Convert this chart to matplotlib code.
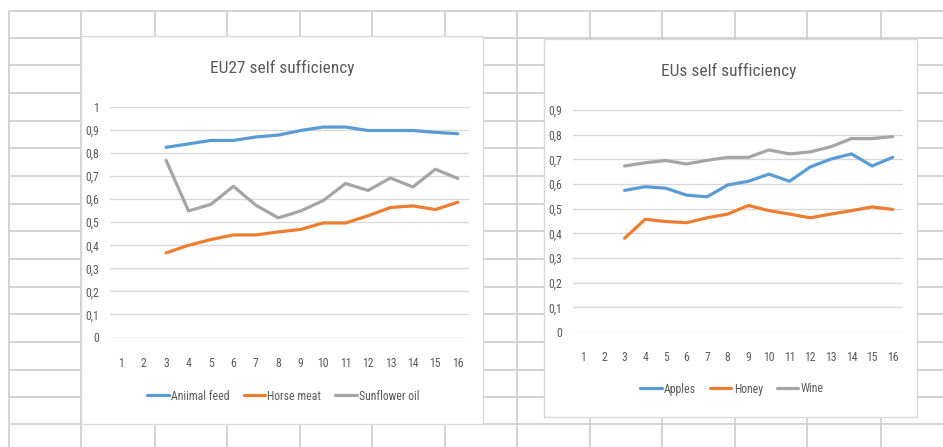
import numpy as np
import matplotlib
matplotlib.use('Agg')
import matplotlib.pyplot as plt
from matplotlib.patches import Rectangle
from matplotlib.ticker import FuncFormatter, MultipleLocator
from matplotlib import font_manager

''' data read off the two Excel charts '''
lYears = list(range(3, 17))
lTicks = list(range(1, 17))

lfAnimalFeed = [0.825, 0.84, 0.855, 0.855, 0.87, 0.878, 0.898, 0.913, 0.913,
                0.898, 0.898, 0.898, 0.89, 0.884]
lfHorseMeat = [0.367, 0.40, 0.425, 0.445, 0.445, 0.458, 0.469, 0.497, 0.497,
               0.528, 0.564, 0.571, 0.555, 0.587]
lfSunflowerOil = [0.769, 0.549, 0.578, 0.656, 0.574, 0.519, 0.549, 0.594,
                  0.668, 0.638, 0.692, 0.653, 0.73, 0.69]

lfApples = [0.574, 0.589, 0.583, 0.555, 0.548, 0.596, 0.611, 0.64, 0.611,
            0.669, 0.701, 0.722, 0.673, 0.708]
lfHoney = [0.38, 0.457, 0.448, 0.443, 0.463, 0.478, 0.513, 0.492, 0.478,
           0.463, 0.478, 0.492, 0.507, 0.497]
lfWine = [0.673, 0.686, 0.695, 0.681, 0.696, 0.708, 0.708, 0.738, 0.722,
          0.73, 0.751, 0.784, 0.784, 0.792]

''' styling '''
W, H = 943, 447
cBlue, cOrange, cGray = '#5B9BD5', '#ED7D31', '#A5A5A5'
cText = '#595959'
cGrid = '#D9D9D9'
cSheet = '#D0D0D0'

''' pick the narrowest installed family '''
lsNames = set(f.name for f in font_manager.fontManager.ttflist)
sFont = 'DejaVu Sans'
for sName in ['Liberation Sans Narrow', 'Roboto Condensed', 'Lato', 'Roboto']:
    if sName in lsNames:
        sFont = sName
        break
plt.rcParams['font.family'] = [sFont, 'DejaVu Sans']


def fx(px):
    return px / float(W)


def fy(py):
    return 1.0 - py / float(H)


fig = plt.figure(figsize=(W / 100.0, H / 100.0), dpi=100)
fig.patch.set_facecolor('white')

''' spreadsheet grid behind the charts '''
axBg = fig.add_axes([0, 0, 1, 1], zorder=0)
axBg.set_xlim(0, W)
axBg.set_ylim(H, 0)
axBg.axis('off')
lRows = [11, 37.5, 65, 92.5, 120.5, 148, 176, 203.5, 231, 259, 286.5, 314,
         342, 369.5, 396.5, 423.5]
lCols = [8.5, 81, 154.5, 227, 299.5, 372, 445, 517, 589.5, 662, 734.5, 807,
         880.5]
axBg.hlines(lRows, 8.5, W, color=cSheet, lw=1.3)
axBg.vlines(lCols, 11, H, color=cSheet, lw=1.3)
for (x0, y0, x1, y1) in [(81, 36, 483, 423.5), (544, 39, 917, 417)]:
    axBg.add_patch(Rectangle((x0, y0), x1 - x0, y1 - y0, facecolor='white',
                             edgecolor='#D9D9D9', lw=1.0, zorder=3))


def fmtComma(v, pos):
    s = ('%.1f' % v).rstrip('0').rstrip('.')
    return s.replace('.', ',')


def drawChart(rect, fMax, lSeries, sTitle, tTitle, tLegend):
    ax = fig.add_axes(rect, zorder=2)
    ax.patch.set_alpha(0)
    for (lfVals, sLabel, cCol) in lSeries:
        ax.plot(lYears, lfVals, color=cCol, lw=2.3, label=sLabel,
                solid_capstyle='round')
    ax.set_xlim(0.5, 16.5)
    ax.set_ylim(0, fMax)
    ax.set_xticks(lTicks)
    ax.yaxis.set_major_locator(MultipleLocator(0.1))
    ax.yaxis.set_major_formatter(FuncFormatter(fmtComma))
    ax.grid(axis='y', color=cGrid, lw=1.0)
    ax.set_axisbelow(True)
    for s in ax.spines.values():
        s.set_visible(False)
    ax.tick_params(axis='both', length=0, labelsize=8.5, labelcolor=cText)
    ax.tick_params(axis='y', pad=8)
    ax.tick_params(axis='x', pad=14)
    fig.text(fx(tTitle[0]), fy(tTitle[1]), sTitle, ha='center', va='center',
             fontsize=12.5, color=cText)
    ax.legend(loc='center', bbox_to_anchor=(fx(tLegend[0]), fy(tLegend[1])),
              bbox_transform=fig.transFigure, ncol=3, frameon=False,
              fontsize=8.5, handlelength=1.8, handletextpad=0.2,
              columnspacing=1.2, labelcolor=cText)
    return ax


drawChart([fx(110), fy(337.5), fx(469) - fx(110), fy(107) - fy(337.5)], 1.0,
          [(lfAnimalFeed, 'Aniimal feed', cBlue),
           (lfHorseMeat, 'Horse meat', cOrange),
           (lfSunflowerOil, 'Sunflower oil', cGray)],
          'EU27 self sufficiency', (282, 68), (283.5, 396))

drawChart([fx(573), fy(332), fx(903) - fx(573), fy(110) - fy(332)], 0.9,
          [(lfApples, 'Apples', cBlue),
           (lfHoney, 'Honey', cOrange),
           (lfWine, 'Wine', cGray)],
          'EUs self sufficiency', (729, 71), (732, 389))

fig.savefig('out.png', dpi=100)
